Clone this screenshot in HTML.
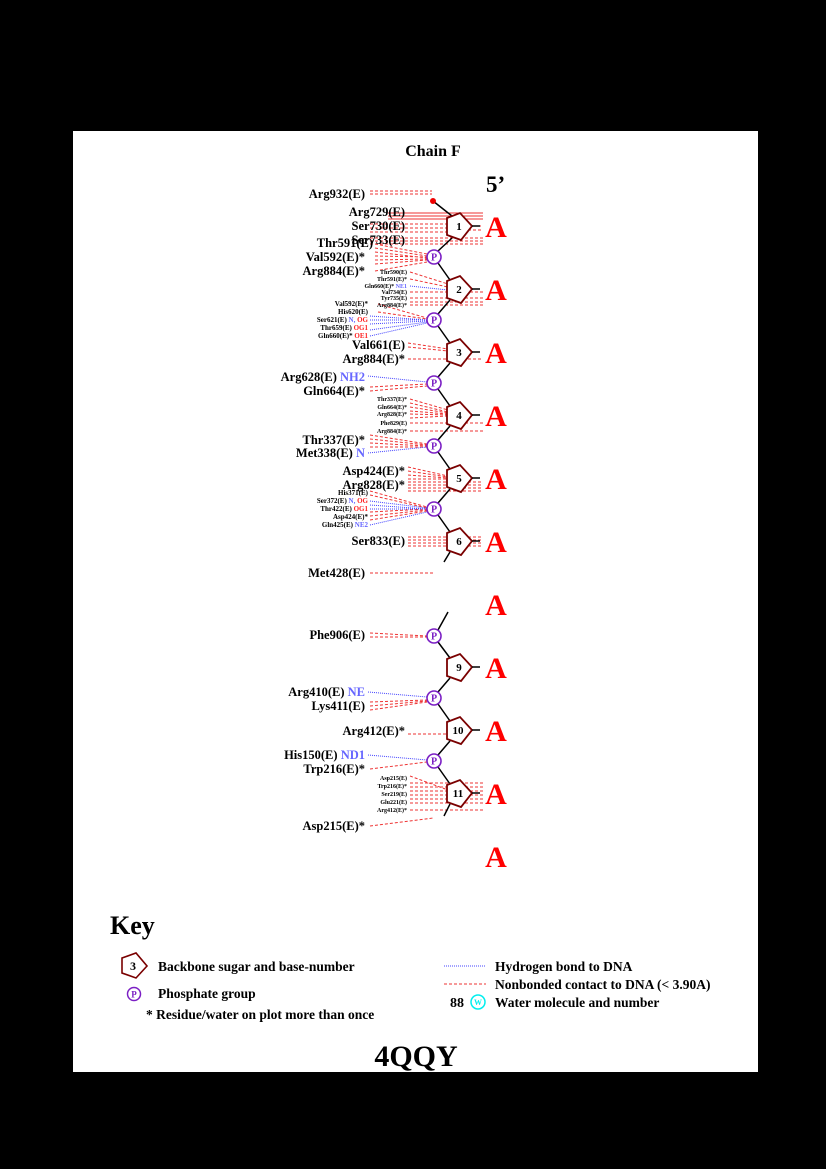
<!DOCTYPE html>
<html><head><meta charset="utf-8"><style>
html,body{margin:0;padding:0;background:#000;}
svg{display:block}
text{font-family:"Liberation Serif",serif;font-weight:bold;}
</style></head><body>
<svg width="826" height="1169" viewBox="0 0 826 1169" xmlns="http://www.w3.org/2000/svg">
<rect x="0" y="0" width="826" height="1169" fill="#000"/>
<rect x="73" y="131" width="685" height="941" fill="#fff"/>
<defs>
<g id="sug"><polygon points="-11,-8 2,-13 14,0 3,14 -11,9" fill="#fff" stroke="#7a0000" stroke-width="1.8"/><line x1="14" y1="0" x2="22" y2="0" stroke="#000" stroke-width="1.5"/></g>
<g id="ph"><circle r="7" fill="#fff" stroke="#7b1fc4" stroke-width="1.6"/><text x="0" y="3.5" font-size="10" fill="#7b1fc4" text-anchor="middle">P</text></g>
</defs>
<text x="433" y="156" font-size="16" text-anchor="middle">Chain F</text>
<text x="486" y="192" font-size="23">5’</text>

<!-- contact lines -->
<g stroke="#e33" stroke-width="1" stroke-dasharray="3,2" fill="none">
<path d="M370 191H432M370 194H432"/>
<path d="M370 224H448M370 228H448M370 232H448"/>
<path d="M370 238H483M370 241H483M370 244H483M448 226H483M448 230H483"/>
<path d="M375 244L427 254M375 248L427 256M375 252L427 258M375 256L427 257M375 260L427 259M375 264L427 260M375 271L427 262"/>
<path d="M410 272L448 284M410 279L448 287M410 292H483M410 298H483M410 305H483M410 302H483"/>
<path d="M378 304L427 318M378 312L427 319"/>
<path d="M408 343L448 349M408 347L448 351M408 359H483"/>
<path d="M370 387L427 384M370 391L427 386"/>
<path d="M410 399L448 410M410 403L448 412M410 407L448 413M410 411L448 414M410 414L448 415M410 418L448 416M410 423H483M410 431H483"/>
<path d="M370 435L427 444M370 439L427 445M370 443L427 446M370 447L427 447"/>
<path d="M408 467L448 476M408 471L448 477M408 475L448 478M408 479L448 479M408 482H483M408 485H483M408 488H483M408 491H483"/>
<path d="M370 491L427 507M370 495L427 508M370 512L427 509M370 516L427 510M370 520L427 511"/>
<path d="M408 537H483M408 540H483M408 543H483M408 546H483"/>
<path d="M370 573H433"/>
<path d="M370 633L427 636M370 637L427 637"/>
<path d="M370 702L427 700M370 706L427 701M370 710L427 702"/>
<path d="M408 734L448 734"/>
<path d="M370 769L427 762"/>
<path d="M410 776L448 790M410 783H483M410 787H483M410 791H483M410 795H483M410 799H483M410 803H483M410 810H483"/>
<path d="M370 826L433 818"/>
</g>
<g stroke="#e33" stroke-width="1"><path d="M388 213H483M388 216H483M388 219H483"/></g>
<g stroke="#44f" stroke-width="1" stroke-dasharray="1,1" fill="none">
<path d="M410 286L448 290"/>
<path d="M370 316L427 320M370 320L427 320M370 324L427 321M370 330L427 322M370 336L427 323"/>
<path d="M368 376L427 382"/>
<path d="M368 453L427 447"/>
<path d="M370 501L427 508M370 505L427 509M370 509L427 509M370 525L427 512"/>
<path d="M368 692L427 697"/>
<path d="M368 755L427 760"/>
</g>

<!-- backbone -->
<g stroke="#000" stroke-width="1.5" fill="none">
<path d="M433 201L452 216"/>
<path d="M452 238L438 251M438 263L450 280"/>
<path d="M450 300L438 314M438 326L450 343"/>
<path d="M450 363L438 377M438 389L450 406"/>
<path d="M450 426L438 440M438 452L450 469"/>
<path d="M450 489L438 503M438 515L450 532"/>
<path d="M450 552L444 562"/>
<path d="M448 612L438 630M438 642L450 658"/>
<path d="M450 678L438 692M438 704L450 721"/>
<path d="M450 741L438 755M438 767L450 784"/>
<path d="M450 804L444 816"/>
</g>
<circle cx="433" cy="201" r="3" fill="#e00"/>

<use href="#sug" x="458" y="226"/><use href="#ph" x="434" y="257"/>
<use href="#sug" x="458" y="289"/><use href="#ph" x="434" y="320"/>
<use href="#sug" x="458" y="352"/><use href="#ph" x="434" y="383"/>
<use href="#sug" x="458" y="415"/><use href="#ph" x="434" y="446"/>
<use href="#sug" x="458" y="478"/><use href="#ph" x="434" y="509"/>
<use href="#sug" x="458" y="541"/>
<use href="#ph" x="434" y="636"/>
<use href="#sug" x="458" y="667"/><use href="#ph" x="434" y="698"/>
<use href="#sug" x="458" y="730"/><use href="#ph" x="434" y="761"/>
<use href="#sug" x="458" y="793"/>
<g font-size="11" text-anchor="middle">
<text x="459" y="230">1</text><text x="459" y="293">2</text><text x="459" y="356">3</text><text x="459" y="419">4</text><text x="459" y="482">5</text><text x="459" y="545">6</text><text x="459" y="671">9</text><text x="458" y="734">10</text><text x="458" y="797">11</text>
</g>
<g font-size="30" fill="#f00" text-anchor="middle">
<text x="496" y="237">A</text><text x="496" y="300">A</text><text x="496" y="363">A</text><text x="496" y="426">A</text><text x="496" y="489">A</text><text x="496" y="552">A</text><text x="496" y="615">A</text><text x="496" y="678">A</text><text x="496" y="741">A</text><text x="496" y="804">A</text><text x="496" y="867">A</text>
</g>

<!-- big labels -->
<g font-size="12.5" text-anchor="end">
<text x="365" y="198">Arg932(E)</text>
<text x="405" y="216">Arg729(E)</text>
<text x="405" y="230">Ser730(E)</text>
<text x="405" y="244">Ser733(E)</text>
<text x="373" y="247">Thr591(E)</text>
<text x="365" y="261">Val592(E)*</text>
<text x="365" y="275">Arg884(E)*</text>
<text x="405" y="349">Val661(E)</text>
<text x="405" y="363">Arg884(E)*</text>
<text x="365" y="381">Arg628(E) <tspan fill="#66f">NH2</tspan></text>
<text x="365" y="395">Gln664(E)*</text>
<text x="365" y="444">Thr337(E)*</text>
<text x="365" y="457">Met338(E) <tspan fill="#66f">N</tspan></text>
<text x="405" y="475">Asp424(E)*</text>
<text x="405" y="489">Arg828(E)*</text>
<text x="405" y="545">Ser833(E)</text>
<text x="365" y="577">Met428(E)</text>
<text x="365" y="639">Phe906(E)</text>
<text x="365" y="696">Arg410(E) <tspan fill="#66f">NE</tspan></text>
<text x="365" y="710">Lys411(E)</text>
<text x="405" y="735">Arg412(E)*</text>
<text x="365" y="759">His150(E) <tspan fill="#66f">ND1</tspan></text>
<text x="365" y="773">Trp216(E)*</text>
<text x="365" y="830">Asp215(E)*</text>
</g>
<!-- small labels -->
<g font-size="6" text-anchor="end">
<text x="407" y="274">Thr590(E)</text>
<text x="407" y="281">Thr591(E)*</text>
<text x="407" y="288">Gln660(E)* <tspan fill="#66f">NE1</tspan></text>
<text x="407" y="294">Val734(E)</text>
<text x="407" y="300">Tyr735(E)</text>
<text x="407" y="307">Arg884(E)*</text>
<text x="407" y="401">Thr337(E)*</text>
<text x="407" y="409">Gln664(E)*</text>
<text x="407" y="416">Arg828(E)*</text>
<text x="407" y="425">Phe829(E)</text>
<text x="407" y="433">Arg884(E)*</text>
<text x="407" y="780">Asp215(E)</text>
<text x="407" y="788">Trp216(E)*</text>
<text x="407" y="796">Ser219(E)</text>
<text x="407" y="804">Glu221(E)</text>
<text x="407" y="812">Arg412(E)*</text>
</g>
<g font-size="7" text-anchor="end">
<text x="368" y="306">Val592(E)*</text>
<text x="368" y="314">His620(E)</text>
<text x="368" y="322">Ser621(E) <tspan fill="#66f">N,</tspan> <tspan fill="#f22">OG</tspan></text>
<text x="368" y="330">Thr659(E) <tspan fill="#f22">OG1</tspan></text>
<text x="368" y="338">Gln660(E)* <tspan fill="#f22">OE1</tspan></text>
<text x="368" y="495">His371(E)</text>
<text x="368" y="503">Ser372(E) <tspan fill="#66f">N,</tspan> <tspan fill="#f22">OG</tspan></text>
<text x="368" y="511">Thr422(E) <tspan fill="#f22">OG1</tspan></text>
<text x="368" y="519">Asp424(E)*</text>
<text x="368" y="527">Gln425(E) <tspan fill="#66f">NE2</tspan></text>
</g>

<!-- key -->
<text x="110" y="934" font-size="26">Key</text>
<polygon points="122,958 136,953 147,966 136,978 122,973" fill="#fff" stroke="#7a0000" stroke-width="1.6"/>
<text x="133" y="970" font-size="12" text-anchor="middle">3</text>
<text x="158" y="971" font-size="13.5">Backbone sugar and base-number</text>
<circle cx="134" cy="994" r="6.5" fill="#fff" stroke="#7b1fc4" stroke-width="1.5"/>
<text x="134" y="997.5" font-size="9" fill="#7b1fc4" text-anchor="middle">P</text>
<text x="158" y="998" font-size="13.5">Phosphate group</text>
<text x="146" y="1019" font-size="13.5">* Residue/water on plot more than once</text>
<line x1="444" y1="966" x2="486" y2="966" stroke="#44f" stroke-dasharray="1,1"/>
<text x="495" y="971" font-size="13.5">Hydrogen bond to DNA</text>
<line x1="444" y1="984" x2="486" y2="984" stroke="#e33" stroke-dasharray="3,2"/>
<text x="495" y="989" font-size="13.5">Nonbonded contact to DNA (&lt; 3.90A)</text>
<text x="464" y="1007" font-size="14" text-anchor="end">88</text>
<circle cx="478" cy="1002" r="7" fill="#fff" stroke="#0ee" stroke-width="1.5"/>
<text x="478" y="1005" font-size="8" fill="#0ee" text-anchor="middle">W</text>
<text x="495" y="1007" font-size="13.5">Water molecule and number</text>
<text x="416" y="1066" font-size="30" text-anchor="middle">4QQY</text>
</svg>
</body></html>
